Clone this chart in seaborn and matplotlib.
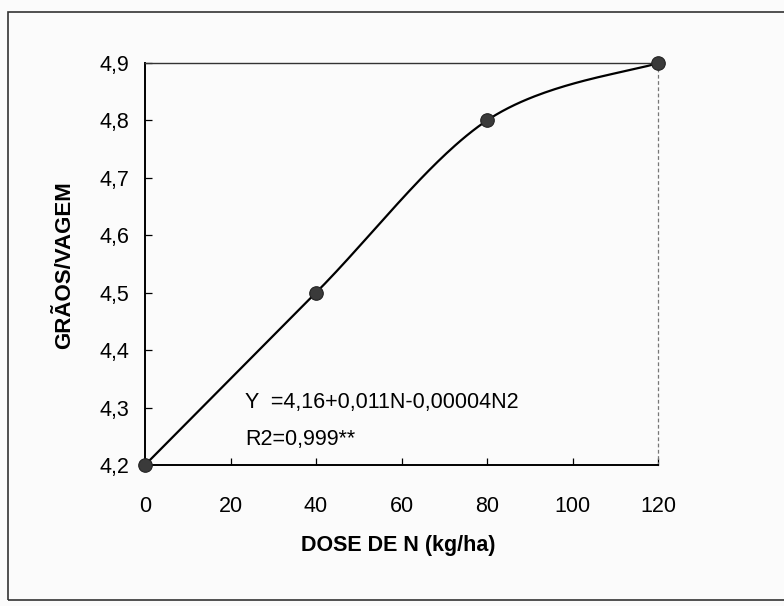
import numpy as np
import pandas as pd
import matplotlib
matplotlib.use("Agg")
import matplotlib.pyplot as plt
import seaborn as sns
from matplotlib.patches import Rectangle

# Nitrogen doses (kg/ha) and grains per pod
dose_n = [0, 40, 80, 120]
graos_vagem = [4.2, 4.5, 4.8, 4.9]

x_ticks = [0, 20, 40, 60, 80, 100, 120]
y_ticks = [4.2, 4.3, 4.4, 4.5, 4.6, 4.7, 4.8, 4.9]
y_tick_labels = ["4,2", "4,3", "4,4", "4,5", "4,6", "4,7", "4,8", "4,9"]

x_label = "DOSE DE N (kg/ha)"
y_label = "GRÃOS/VAGEM"
equation = "Y  =4,16+0,011N-0,00004N2"
r_squared = "R2=0,999**"

sns.set_theme(style="white")
plt.rcParams["font.family"] = ["Liberation Sans", "DejaVu Sans"]

df = pd.DataFrame({"dose": dose_n, "graos": graos_vagem})


def smooth_curve(xs, ys, steps=60):
    """Catmull-Rom smoothing through the measured points (spreadsheet-style smoothed line)."""
    xs = np.asarray(xs, float)
    ys = np.asarray(ys, float)
    sx = xs.max() - xs.min()
    sy = ys.max() - ys.min()
    px = np.concatenate([[xs[0]], xs, [xs[-1]]]) / sx
    py = np.concatenate([[ys[0]], ys, [ys[-1]]]) / sy
    out_x, out_y = [], []
    t = np.linspace(0, 1, steps)
    for i in range(1, len(px) - 2):
        p0, p1, p2, p3 = [np.array([px[j], py[j]]) for j in (i - 1, i, i + 1, i + 2)]
        c1 = p1 + (p2 - p0) / 6.0
        c2 = p2 - (p3 - p1) / 6.0
        pts = ((1 - t) ** 3)[:, None] * p1 + (3 * (1 - t) ** 2 * t)[:, None] * c1 \
            + (3 * (1 - t) * t ** 2)[:, None] * c2 + (t ** 3)[:, None] * p2
        out_x.extend(pts[:, 0] * sx)
        out_y.extend(pts[:, 1] * sy)
    return pd.DataFrame({"dose": out_x, "graos": out_y})


curve = smooth_curve(df["dose"], df["graos"])

fig = plt.figure(figsize=(7.84, 6.06), dpi=100)
fig.patch.set_facecolor("#fbfbfb")
ax = fig.add_axes([145 / 784, 1 - 465 / 606, 513 / 784, 402 / 606])
ax.set_facecolor("#fbfbfb")

# outer frame around the figure
fig.patches.append(Rectangle((8 / 784, 1 - 600 / 606), 1.0, 588 / 606,
                             transform=fig.transFigure, fill=False,
                             edgecolor="#333333", linewidth=1.2))

sns.lineplot(data=curve, x="dose", y="graos", ax=ax, color="black",
             linewidth=1.6, sort=False, estimator=None)
sns.scatterplot(data=df, x="dose", y="graos", ax=ax, color="#3a3a3a",
                s=95, edgecolor="#222222", linewidth=0.8, zorder=5, clip_on=False)

ax.set_xlim(0, 120)
ax.set_ylim(4.2, 4.9)
ax.set_xticks(x_ticks)
ax.set_yticks(y_ticks)
ax.set_yticklabels(y_tick_labels)
ax.tick_params(axis="both", direction="in", length=5, width=0.9, colors="black",
               labelsize=15.5)
ax.tick_params(axis="x", pad=22, bottom=True)
ax.tick_params(axis="y", pad=11, left=True)

for side in ("left", "bottom"):
    ax.spines[side].set_color("black")
    ax.spines[side].set_linewidth(1.4)
ax.spines["top"].set_color("#333333")
ax.spines["top"].set_linewidth(1.0)
ax.spines["right"].set_color("#777777")
ax.spines["right"].set_linewidth(0.9)
ax.spines["right"].set_linestyle((0, (2, 3)))

ax.set_xlabel(x_label, fontsize=15.5, fontweight="bold", color="black")
ax.set_ylabel(y_label, fontsize=16, fontweight="bold", color="black")
ax.xaxis.label.set_va("center")
ax.yaxis.label.set_va("center")
ax.xaxis.set_label_coords((398 - 145) / 513, (465 - 546) / 402)
ax.yaxis.set_label_coords((65 - 145) / 513, (465 - 265) / 402)

ax.text(23.4, 4.299, equation, fontsize=15.5, color="black", ha="left", va="baseline")
ax.text(23.4, 4.235, r_squared, fontsize=15.5, color="black", ha="left", va="baseline")

fig.savefig("out.png", dpi=100, facecolor=fig.get_facecolor())
